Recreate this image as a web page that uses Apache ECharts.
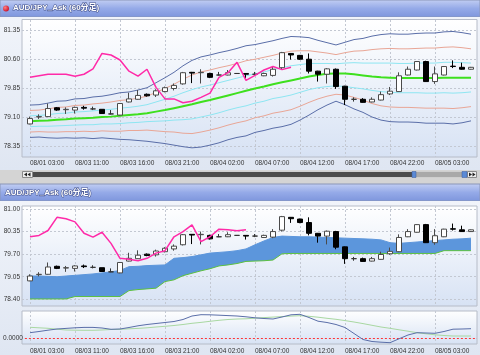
<!DOCTYPE html>
<html><head><meta charset="utf-8">
<script src="https://cdn.jsdelivr.net/npm/echarts@6/dist/echarts.min.js"></script>
<style>html,body{margin:0;padding:0;background:#d4d4d4}#c{width:480px;height:355px}</style>
</head><body><div id="c"></div>
<script>
const titleText = 'AUD/JPY_Ask (60分足)';
const categories = ['08/01 03:00','08/03 07:00','08/03 08:00','08/03 09:00','08/03 10:00','08/03 11:00','08/03 12:00','08/03 13:00','08/03 14:00','08/03 15:00',
'08/03 16:00','08/03 17:00','08/03 18:00','08/03 19:00','08/03 20:00','08/03 21:00','08/03 22:00','08/03 23:00','08/04 00:00','08/04 01:00',
'08/04 02:00','08/04 03:00','08/04 04:00','08/04 05:00','08/04 06:00','08/04 07:00','08/04 08:00','08/04 09:00','08/04 10:00','08/04 11:00',
'08/04 12:00','08/04 13:00','08/04 14:00','08/04 15:00','08/04 16:00','08/04 17:00','08/04 18:00','08/04 19:00','08/04 20:00','08/04 21:00',
'08/04 22:00','08/04 23:00','08/05 00:00','08/05 01:00','08/05 02:00','08/05 03:00','08/05 04:00','08/05 05:00','08/05 06:00','08/05 07:00'];
const topTicks = [78.35, 79.10, 79.85, 80.60, 81.35];
const bottomTicks = [78.40, 79.05, 79.70, 80.35, 81.00];
const indicatorTicks = [0, 0.27];

const open  = [78.93,79.11,79.12,79.35,79.30,79.29,79.36,79.32,79.31,79.19,79.16,79.50,79.57,79.70,79.68,79.77,79.85,79.97,80.27,80.26,80.24,80.20,80.20,80.24,80.24,80.22,80.18,80.19,80.39,80.76,80.71,80.61,80.30,80.22,80.35,79.91,79.57,79.57,79.50,79.55,79.71,79.77,80.20,80.33,80.55,80.03,80.20,80.43,80.40,80.35];
const close = [79.07,79.12,79.33,79.29,79.31,79.36,79.34,79.32,79.20,79.19,79.46,79.58,79.67,79.66,79.79,79.87,79.93,80.26,80.25,80.27,80.14,80.20,80.26,80.24,80.22,80.22,80.24,80.35,80.78,80.72,80.61,80.30,80.22,80.36,79.90,79.57,79.57,79.49,79.57,79.69,79.78,80.18,80.35,80.55,80.03,80.23,80.42,80.42,80.35,80.40];
const low   = [78.92,79.06,79.11,79.27,79.19,79.20,79.30,79.29,79.19,79.18,79.15,79.49,79.56,79.64,79.63,79.75,79.80,79.95,79.99,79.98,80.12,80.19,80.19,80.23,80.12,80.19,80.17,80.16,80.35,80.60,80.59,80.24,80.03,79.98,79.84,79.42,79.51,79.48,79.49,79.54,79.68,79.76,80.19,80.32,80.02,79.97,80.19,80.38,80.34,80.34];
const high  = [79.12,79.18,79.46,79.37,79.36,79.38,79.40,79.38,79.31,79.29,79.47,79.74,79.81,79.72,79.83,79.90,79.98,80.28,80.28,80.35,80.26,80.28,80.33,80.25,80.25,80.28,80.26,80.42,80.80,80.77,80.72,80.76,80.31,80.38,80.37,79.92,79.62,79.60,79.62,79.77,79.89,80.27,80.42,80.56,80.57,80.42,80.43,80.58,80.52,80.41];

const bbMid = [79.00,79.01,79.02,79.04,79.05,79.07,79.08,79.09,79.11,79.12,79.14,79.16,79.18,79.21,79.25,79.29,79.34,79.39,79.44,79.50,79.55,79.61,79.67,79.73,79.79,79.85,79.90,79.96,80.01,80.06,80.11,80.16,80.20,80.23,80.24,80.24,80.22,80.19,80.16,80.14,80.13,80.12,80.12,80.12,80.12,80.12,80.13,80.13,80.13,80.13];
const bbUp1 = [79.14,79.15,79.17,79.20,79.21,79.24,79.25,79.27,79.29,79.31,79.34,79.36,79.39,79.43,79.50,79.57,79.65,79.74,79.82,79.89,79.94,80.00,80.06,80.12,80.18,80.23,80.28,80.34,80.39,80.44,80.47,80.50,80.50,80.50,80.49,80.51,80.52,80.51,80.51,80.51,80.51,80.50,80.50,80.51,80.51,80.51,80.53,80.53,80.52,80.51];
const bbUp2 = [79.28,79.29,79.32,79.36,79.37,79.41,79.42,79.45,79.47,79.50,79.54,79.56,79.60,79.65,79.75,79.85,79.96,80.09,80.20,80.28,80.33,80.39,80.44,80.50,80.57,80.61,80.66,80.71,80.77,80.82,80.83,80.83,80.80,80.77,80.73,80.78,80.82,80.83,80.86,80.88,80.89,80.88,80.88,80.89,80.90,80.90,80.92,80.93,80.91,80.88];
const bbUp3 = [79.42,79.43,79.47,79.52,79.53,79.58,79.59,79.63,79.65,79.69,79.74,79.76,79.81,79.87,80.00,80.13,80.27,80.44,80.58,80.67,80.72,80.78,80.83,80.89,80.96,80.99,81.04,81.09,81.15,81.20,81.19,81.17,81.10,81.04,80.98,81.05,81.12,81.15,81.21,81.25,81.27,81.26,81.26,81.28,81.29,81.29,81.32,81.33,81.30,81.26];
const bbLo1 = [78.86,78.87,78.87,78.88,78.89,78.90,78.91,78.91,78.93,78.93,78.94,78.96,78.97,78.99,79.00,79.01,79.03,79.04,79.06,79.11,79.16,79.22,79.29,79.35,79.40,79.47,79.52,79.59,79.63,79.68,79.75,79.82,79.87,79.90,79.92,79.90,79.87,79.84,79.80,79.77,79.75,79.74,79.74,79.74,79.73,79.73,79.74,79.73,79.74,79.76];
const bbLo2 = [78.72,78.73,78.72,78.72,78.73,78.73,78.74,78.73,78.75,78.74,78.74,78.76,78.76,78.77,78.75,78.73,78.72,78.69,78.68,78.72,78.77,78.83,78.90,78.96,79.01,79.09,79.14,79.21,79.25,79.30,79.39,79.49,79.58,79.65,79.70,79.68,79.62,79.55,79.46,79.40,79.37,79.36,79.36,79.35,79.34,79.34,79.34,79.33,79.35,79.38];
const bbLo3 = [78.58,78.59,78.57,78.56,78.57,78.56,78.57,78.55,78.57,78.55,78.53,78.52,78.50,78.48,78.45,78.42,78.38,78.34,78.31,78.33,78.38,78.44,78.52,78.58,78.62,78.71,78.76,78.82,78.86,78.92,79.03,79.16,79.30,79.42,79.52,79.43,79.32,79.23,79.11,79.03,78.99,78.98,78.98,78.97,78.95,78.95,78.95,78.93,78.96,79.01];
const lagTop = [80.14,80.18,80.22,80.22,80.22,80.17,80.22,80.36,80.76,80.72,80.59,80.30,80.17,80.35,79.88,79.58,79.58,79.48,79.52,79.62,79.73,80.14,80.26,80.53,80.06,80.19,80.33,80.42,80.34,80.40];

const lagBottom = [80.20,80.24,80.38,80.76,80.72,80.63,80.30,80.19,80.33,80.01,79.58,79.55,79.51,79.58,79.73,79.80,80.20,80.35,80.54,80.06,80.20,80.42,80.40,80.37,80.40];
const cloudUpper = [79.07,79.07,79.06,79.05,79.07,79.09,79.11,79.13,79.16,79.19,79.23,79.34,79.35,79.37,79.38,79.39,79.58,79.60,79.63,79.68,79.73,79.75,79.77,79.80,79.85,79.97,80.08,80.18,80.22,80.21,80.20,80.20,80.19,80.18,80.17,80.16,80.15,80.14,80.13,80.11,80.03,80.01,80.03,80.05,80.07,80.09,80.11,80.13,80.14,80.16];
const cloudLower = [78.41,78.41,78.41,78.41,78.41,78.48,78.48,78.48,78.48,78.48,78.48,78.65,78.68,78.70,78.72,78.91,78.96,79.08,79.15,79.22,79.28,79.36,79.39,79.43,79.49,79.50,79.51,79.53,79.71,79.72,79.72,79.72,79.72,79.72,79.72,79.72,79.72,79.72,79.72,79.72,79.72,79.72,79.72,79.72,79.72,79.72,79.80,79.80,79.80,79.80];

const macdLine = [0.053,0.065,0.078,0.090,0.096,0.102,0.106,0.106,0.100,0.087,0.090,0.105,0.122,0.135,0.145,0.155,0.165,0.185,0.220,0.233,0.232,0.228,0.224,0.220,0.212,0.202,0.195,0.190,0.210,0.232,0.237,0.205,0.168,0.155,0.135,0.105,0.045,-0.015,-0.035,-0.042,-0.047,-0.008,0.030,0.053,0.050,0.047,0.065,0.088,0.090,0.093];
const signalLine = [0.107,0.102,0.097,0.088,0.080,0.078,0.077,0.077,0.080,0.085,0.087,0.092,0.096,0.102,0.110,0.117,0.125,0.135,0.147,0.156,0.167,0.177,0.185,0.190,0.192,0.198,0.204,0.209,0.214,0.219,0.223,0.217,0.208,0.197,0.187,0.174,0.160,0.144,0.127,0.110,0.097,0.082,0.068,0.053,0.042,0.032,0.025,0.020,0.020,0.020];

const FONT = '"Liberation Sans", "Noto Sans CJK JP", sans-serif';
const candleData = open.map((o, i) => [o, close[i], low[i], high[i]]);
const cloudThickness = cloudUpper.map((u, i) => +(u - cloudLower[i]).toFixed(2));
const G = echarts.graphic;
const plotFill = () => new G.LinearGradient(0, 0, 0, 1, [{offset: 0, color: '#ffffff'}, {offset: 1, color: '#d7e2f4'}]);
const headFill = () => new G.LinearGradient(0, 0, 0, 1, [{offset: 0, color: '#c3cff3'}, {offset: 0.5, color: '#95aae8'}, {offset: 1, color: '#7d95dc'}]);
const bodyFill = () => new G.LinearGradient(0, 0, 0, 1, [{offset: 0, color: '#f1f4fa'}, {offset: 1, color: '#dfe6f2'}]);

const chart = echarts.init(document.getElementById('c'), null, {renderer: 'canvas'});

const step = (t) => Math.round((t[1] - t[0]) * 100) / 100;
const gridLine = {color: '#c3c8d2', width: 1, type: [2, 2]};

function catAxis(gi, showLabel) {
  return {type: 'category', gridIndex: gi, data: categories, boundaryGap: false,
    axisLine: {show: false}, axisTick: {show: false},
    axisLabel: {show: showLabel, interval: 4, align: 'left', fontSize: 6.5, color: '#333', margin: gi === 0 ? 3 : 4, fontFamily: FONT},
    splitLine: {show: true, interval: 4, lineStyle: gridLine}};
}
function hiddenVal(gi) { return {type: 'value', gridIndex: gi, min: 0, max: 1, show: false}; }
function labelY(gi, ticks, fmt, split) {
  return {type: 'value', gridIndex: gi, min: ticks[0], max: ticks[ticks.length - 1], interval: step(ticks),
    axisLine: {show: false}, axisTick: {show: false},
    axisLabel: {fontSize: 6.5, color: '#333', margin: 2, fontFamily: FONT, formatter: fmt, showMinLabel: true, showMaxLabel: true},
    splitLine: split};
}
function line(data, color, width, xi, z) {
  return {type: 'line', data, xAxisIndex: xi, yAxisIndex: xi === 0 ? 0 : (xi === 2 ? 2 : 4), symbol: 'none',
    lineStyle: {color, width}, itemStyle: {color}, silent: true, z: z || 2, animation: false};
}
const candleStyle = {color: '#ffffff', color0: '#000000', borderColor: '#4a4a4a', borderColor0: '#000000', borderColorDoji: '#333333', borderWidth: 1};

const option = {
  animation: false,
  backgroundColor: '#d4d4d4',
  title: [
    {text: titleText, left: 13, top: 4, padding: 0, textStyle: {fontSize: 8, fontWeight: 'bold', color: '#ffffff', fontFamily: FONT, textBorderColor: '#4a5890', textBorderWidth: 1.2}},
    {text: titleText, left: 5, top: 189, padding: 0, textStyle: {fontSize: 8, fontWeight: 'bold', color: '#ffffff', fontFamily: FONT, textBorderColor: '#4a5890', textBorderWidth: 1.2}}
  ],
  graphic: [
    {type: 'rect', shape: {x: 0, y: 0, width: 480, height: 17}, style: {fill: headFill(), stroke: '#8a96b8', lineWidth: 1}, z: -20, silent: true},
    {type: 'circle', shape: {cx: 6, cy: 8.5, r: 3}, style: {fill: new G.RadialGradient(0.35, 0.35, 0.8, [{offset: 0, color: '#ff8080'}, {offset: 1, color: '#c00020'}])}, z: 5, silent: true},
    {type: 'rect', shape: {x: 0, y: 17, width: 480, height: 153}, style: {fill: bodyFill()}, z: -20, silent: true},
    {type: 'rect', shape: {x: 22, y: 19.5, width: 455, height: 137.5}, style: {fill: plotFill(), stroke: '#b6bcc8', lineWidth: 1}, z: -10, silent: true},
    // scrollbar
    {type: 'rect', shape: {x: 22, y: 171, width: 455, height: 7}, style: {fill: '#cfcfcf'}, z: -10, silent: true},
    {type: 'rect', shape: {x: 22.5, y: 171.5, width: 10, height: 6}, style: {fill: '#eeeeee', stroke: '#8a8a8a', lineWidth: 1}, z: -9, silent: true},
    {type: 'polygon', shape: {points: [[24, 174.5], [27, 172.5], [27, 176.5]]}, style: {fill: '#222'}, z: -8, silent: true},
    {type: 'polygon', shape: {points: [[27.5, 174.5], [30.5, 172.5], [30.5, 176.5]]}, style: {fill: '#222'}, z: -8, silent: true},
    {type: 'rect', shape: {x: 33, y: 172, width: 379, height: 5}, style: {fill: '#4b4b4b'}, z: -9, silent: true},
    {type: 'rect', shape: {x: 412, y: 171.5, width: 4, height: 6}, style: {fill: '#5b8ad6', stroke: '#3a5a9a', lineWidth: 0.5}, z: -8, silent: true},
    {type: 'rect', shape: {x: 416, y: 172, width: 46, height: 5}, style: {fill: '#a9a9a9'}, z: -9, silent: true},
    {type: 'rect', shape: {x: 462, y: 171.5, width: 5, height: 6}, style: {fill: '#5b8ad6', stroke: '#3a5a9a', lineWidth: 0.5}, z: -8, silent: true},
    {type: 'rect', shape: {x: 467.5, y: 171.5, width: 9, height: 6}, style: {fill: '#eeeeee', stroke: '#8a8a8a', lineWidth: 1}, z: -9, silent: true},
    {type: 'polygon', shape: {points: [[472, 174.5], [469, 172.5], [469, 176.5]]}, style: {fill: '#222'}, z: -8, silent: true},
    {type: 'polygon', shape: {points: [[475.5, 174.5], [472.5, 172.5], [472.5, 176.5]]}, style: {fill: '#222'}, z: -8, silent: true},
    // bottom panel
    {type: 'rect', shape: {x: 0, y: 184, width: 480, height: 17}, style: {fill: headFill(), stroke: '#8a96b8', lineWidth: 1}, z: -20, silent: true},
    {type: 'rect', shape: {x: 0, y: 201, width: 480, height: 154}, style: {fill: bodyFill()}, z: -20, silent: true},
    {type: 'rect', shape: {x: 22, y: 206, width: 455, height: 100}, style: {fill: plotFill(), stroke: '#b6bcc8', lineWidth: 1}, z: -10, silent: true},
    {type: 'rect', shape: {x: 22, y: 311, width: 455, height: 33}, style: {fill: plotFill(), stroke: '#b6bcc8', lineWidth: 1}, z: -10, silent: true}
  ],
  grid: [
    {left: 30, width: 441, top: 20, height: 137},
    {left: 22, width: 455, top: 30.7, height: 115.6},
    {left: 30, width: 441, top: 206, height: 100},
    {left: 22, width: 455, top: 209, height: 90.3},
    {left: 30, width: 441, top: 311, height: 33},
    {left: 22, width: 455, top: 311, height: 27}
  ],
  xAxis: [catAxis(0, true), hiddenVal(1), catAxis(2, false), hiddenVal(3), catAxis(4, true), hiddenVal(5)],
  yAxis: [
    {type: 'value', gridIndex: 0, min: 78.072, max: 81.628, show: false},
    labelY(1, topTicks, v => v.toFixed(2), {lineStyle: gridLine}),
    {type: 'value', gridIndex: 2, min: 78.207, max: 81.086, show: false},
    labelY(3, bottomTicks, v => v.toFixed(2), {lineStyle: gridLine}),
    {type: 'value', gridIndex: 4, min: -0.06, max: 0.27, show: false},
    labelY(5, indicatorTicks, v => (Math.abs(v) < 1e-9 ? '0.0000' : ''), {lineStyle: {color: ['#ff3434', 'rgba(0,0,0,0)'], width: 1, type: [2, 2]}})
  ],
  series: [
    line(bbUp3, '#5a6ea8', 1, 0),
    line(bbLo3, '#5a6ea8', 1, 0),
    line(bbUp2, '#e9a696', 1, 0),
    line(bbLo2, '#e9a696', 1, 0),
    line(bbUp1, '#8ee6f2', 1, 0),
    line(bbLo1, '#8ee6f2', 1, 0),
    line(bbMid, '#3ee01e', 2, 0, 3),
    {type: 'candlestick', data: candleData, xAxisIndex: 0, yAxisIndex: 0, barWidth: 6, clip: false, itemStyle: candleStyle, silent: true, z: 4},
    line(lagTop, '#ff2aa8', 1.5, 0, 5),

    {type: 'line', data: cloudLower, xAxisIndex: 2, yAxisIndex: 2, stack: 'kumo', symbol: 'none', lineStyle: {color: '#5cc040', width: 1}, silent: true, z: 3},
    {type: 'line', data: cloudThickness, xAxisIndex: 2, yAxisIndex: 2, stack: 'kumo', symbol: 'none', lineStyle: {color: '#5c96dc', width: 1}, areaStyle: {color: '#5c96dc', opacity: 1}, silent: true, z: 2},
    {type: 'candlestick', data: candleData, xAxisIndex: 2, yAxisIndex: 2, barWidth: 6, clip: false, itemStyle: candleStyle, silent: true, z: 4},
    line(lagBottom, '#ff2aa8', 1.5, 2, 5),

    line(signalLine, '#a9d8a2', 1, 4),
    line(macdLine, '#5a6ea8', 1, 4, 3)
  ]
};
chart.setOption(option);
</script>
</body></html>
